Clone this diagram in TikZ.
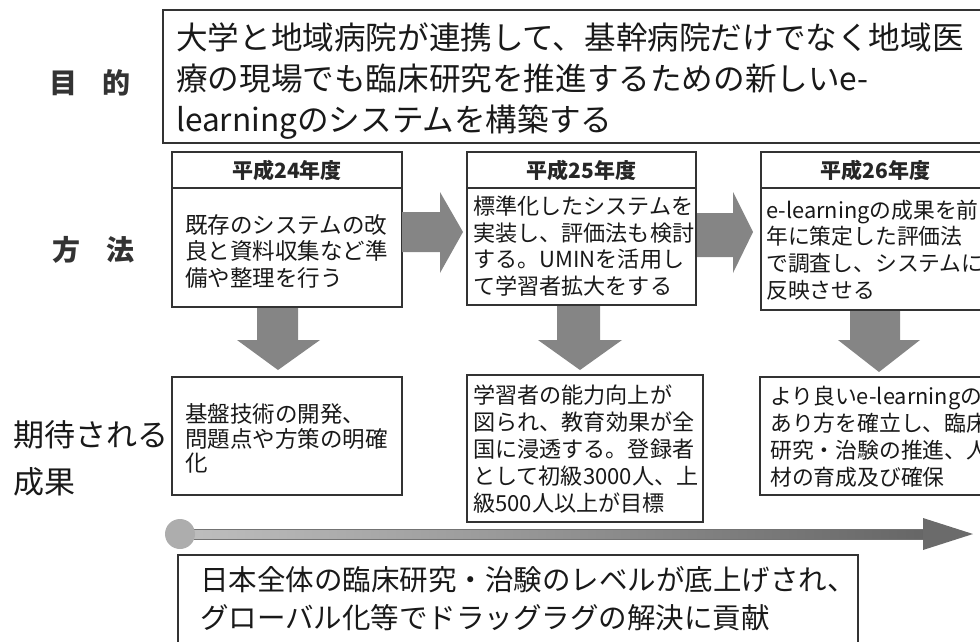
\documentclass[tikz,border=0pt]{standalone}
\usepackage{fontspec}
\setmainfont{Noto Sans CJK JP}
\usetikzlibrary{calc}
\begin{document}
\begin{tikzpicture}[x=1pt,y=-1pt,
  frame/.style={draw=black!80,line width=1.2pt,fill=white,inner sep=0pt},
  txt/.style={anchor=west,inner sep=0pt,align=left,text=black!90},
  lbl/.style={inner sep=0pt,text=black!80,font=\bfseries\fontsize{28}{32}\selectfont},
  blk/.style={fill=black!48},
  yr/.style={font=\bfseries\fontsize{21}{24}\selectfont,text=black!85},
]
\useasboundingbox (0,0) rectangle (980,641);
\clip (0,0) rectangle (980,641);

% side labels
\node[lbl] (lmoku) at (63,83) {目};
\node[lbl] (lteki) at (116,83) {的};
\node[lbl] (lhou) at (66,250) {方};
\node[lbl] (lhou2) at (120,250) {法};
\node[txt,font=\fontsize{31}{47}\selectfont] (lkitai) at (13,458) {期待される\\成果};

% purpose box
\node[frame,minimum width=830pt,minimum height=133pt] (goal) at (578,76.5) {};
\node[txt,font=\fontsize{31.6}{41}\selectfont] (goaltxt) at (176,81) {大学と地域病院が連携して、基幹病院だけでなく地域医\\療の現場でも臨床研究を推進するための新しいe-\\learningのシステムを構築する};

% year headers
\node[frame,minimum width=230pt,minimum height=36pt,yr] (h1) at (287,170) {平成24年度};
\node[frame,minimum width=229pt,minimum height=36pt,yr] (h2) at (581.5,170) {平成25年度};
\node[frame,minimum width=229pt,minimum height=36pt,yr] (h3) at (875.5,170) {平成26年度};

% method boxes
\node[frame,minimum width=230pt,minimum height=119pt] (b1) at (287,247.5) {};
\node[frame,minimum width=229pt,minimum height=117pt] (b2) at (581.5,246.5) {};
\node[frame,minimum width=229pt,minimum height=122pt] (b3) at (875.5,249) {};
\node[txt,font=\fontsize{22.5}{26.5}\selectfont] (b1t) at (185,251) {既存のシステムの改\\良と資料収集など準\\備や整理を行う};
\node[txt,font=\fontsize{22.1}{26.7}\selectfont] (b2t) at (473,246) {標準化したシステムを\\実装し、評価法も検討\\する。UMINを活用し\\て学習者拡大をする};
\node[txt,font=\fontsize{21.8}{26.7}\selectfont] (b3t) at (766,250) {e-learningの成果を前\\年に策定した評価法\\で調査し、システムに\\反映させる};

% outcome boxes
\node[frame,minimum width=230pt,minimum height=118pt] (o1) at (287,436) {};
\node[frame,minimum width=236pt,minimum height=147pt] (o2) at (585,448.5) {};
\node[frame,minimum width=230pt,minimum height=118pt] (o3) at (875,436) {};
\node[txt,font=\fontsize{22.5}{24.5}\selectfont] (o1t) at (185,438.5) {基盤技術の開発、\\問題点や方策の明確\\化};
\node[txt,font=\fontsize{22.1}{27}\selectfont] (o2t) at (473,449.5) {学習者の能力向上が\\図られ、教育効果が全\\国に浸透する。登録者\\として初級3000人、上\\級500人以上が目標};
\node[txt,font=\fontsize{21.8}{27}\selectfont] (o3t) at (770,437) {より良いe-learningの\\あり方を確立し、臨床\\研究・治験の推進、人\\材の育成及び確保};

% right block arrows
\fill[blk] (402,212) -- (440,212) -- (440,192) -- (463,232) -- (440,273) -- (440,252) -- (402,252) -- cycle;
\fill[blk] (697,213) -- (733,213) -- (733,192) -- (753,232) -- (733,273) -- (733,257) -- (697,257) -- cycle;

% down block arrows
\fill[blk] (257,308) -- (298,308) -- (298,340) -- (320,340) -- (278,370) -- (237,340) -- (257,340) -- cycle;
\fill[blk] (557,306) -- (600,306) -- (600,340) -- (622,340) -- (580,370) -- (538,340) -- (557,340) -- cycle;
\fill[blk] (850,311) -- (900,311) -- (900,340) -- (920,340) -- (879,372) -- (838,340) -- (850,340) -- cycle;

% timeline
\shade[left color=black!25,right color=black!60,draw=black!55,line width=0.6pt] (180,529) rectangle (926,539);
\fill[black!58] (923,518) -- (973,534) -- (923,550) -- cycle;
\fill[black!32] (180,534) circle (15);

% final result box
\node[frame,minimum width=680pt,minimum height=100pt] (res) at (518,605) {};
\node[txt,font=\fontsize{28.5}{38}\selectfont] (restxt) at (200,599) {日本全体の臨床研究・治験のレベルが底上げされ、\\グローバル化等でドラッグラグの解決に貢献};
\end{tikzpicture}
\end{document}
